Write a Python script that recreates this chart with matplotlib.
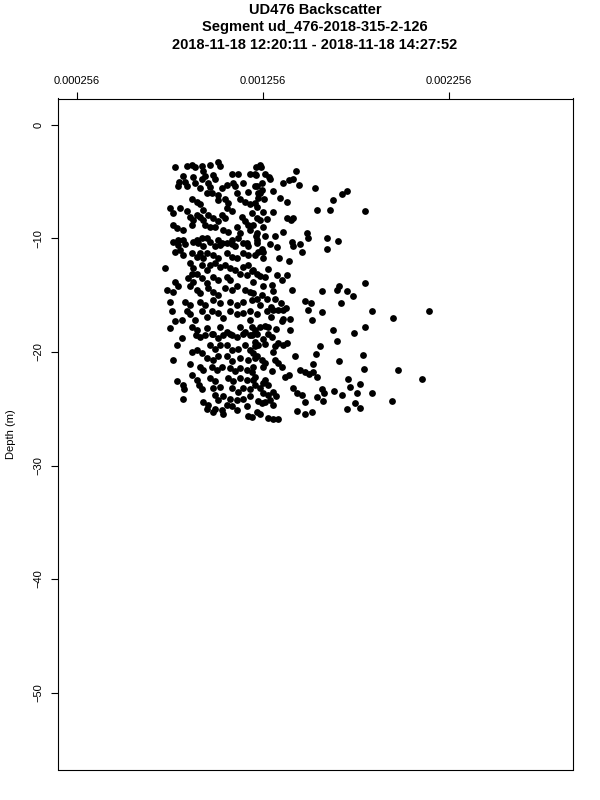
import numpy as np
import matplotlib
matplotlib.use("Agg")
import matplotlib.pyplot as plt

# ==============================
# Data (backscatter in units of 1e-6)
# ==============================
TITLE_LINES = [
    "UD476 Backscatter",
    "Segment ud_476-2018-315-2-126",
    "2018-11-18 12:20:11 - 2018-11-18 14:27:52",
]
X_TICKS = [0.000256, 0.001256, 0.002256]
X_TICK_LABELS = ["0.000256", "0.001256", "0.002256"]
Y_TICKS = [0, -10, -20, -30, -40, -50]

backscatter_e6 = [
    783, 846, 873, 890, 926, 971, 1016, 1025, 824, 806, 801, 837, 846, 881, 935, 944,
    926, 989, 998, 1088, 1123, 1186, 1213, 1240, 1093, 1105, 1150, 1177, 1222, 1231,
    962, 971, 953, 1034, 1061, 890, 917, 873, 899, 917, 935, 980, 1016, 1016, 1052,
    1069, 1061, 1088, 1115, 1132, 1159, 1186, 1213, 1222, 756, 774, 810, 846, 863,
    881, 899, 917, 935, 962, 989, 1016, 1034, 1052, 1141, 1159, 1177, 1204, 774, 792,
    827, 873, 944, 971, 998, 1042, 1069, 1118, 1132, 1186, 801, 827, 899, 926, 953,
    971, 1016, 1034, 1088, 1123, 1168, 1222,
    # upper right part
    1218, 1245, 1218, 1267, 1290, 1294, 1433, 1419, 1397, 1365, 1451, 1537, 1213,
    1249, 1249, 1240, 1229, 1308, 1261, 1347, 1383, 1631, 1681, 1709, 1545, 1616,
    1195, 1258, 1308, 1225, 1240, 1276, 1383, 1405, 1419, 1254, 1365, 1218, 1267,
    1320, 1222, 1494, 1499, 1410, 1455, 1598, 1657, 1294, 1804,
    # middle right part
    1249, 1258, 1333, 1416, 1464, 1598, 1258, 1344, 1397, 1284, 1195, 1240, 1267,
    1330, 1356, 1383, 1204, 1258, 1303, 1308, 1410, 1666, 1655, 1706, 1571, 1186,
    1201, 1195, 1249, 1276, 1320, 1351, 1482, 1512, 1674, 1240, 1297, 1311, 1338,
    1365, 1380, 1499, 1571, 1276, 1297, 1365, 1360, 1401, 1521, 1186, 1195, 1213,
    1213, 1240, 1267, 1284, 1326, 1401, 1631,
    1741, 1804, 1844, 1953, 2147, 1803, 1745,
    # lower right part
    1195, 1213, 1231, 1258, 1267, 1284, 1303, 1320, 1311, 1338, 1365, 1383, 1562,
    1652, 1428, 1541, 1666, 1204, 1222, 1249, 1267, 1258, 1303, 1320, 1338, 1356,
    1374, 1397, 1455, 1482, 1505, 1526, 1526, 1545, 1715, 1195, 1204, 1213, 1267,
    1254, 1284, 1240, 1258, 1419, 1437, 1464, 1482, 1571, 1584, 1638, 1679, 1545,
    1577, 1284, 1311, 1326, 1294, 1267, 1249, 1231, 1311, 1437, 1518, 1482, 1706,
    1240, 1284, 1308, 1338, 1195,
    1792, 1799, 1982, 2111, 1724, 1777, 1763, 1840, 1949, 1749, 1777,
    # middle left part
    774, 801, 837, 881, 908, 935, 998, 1025, 1061, 1088, 1105, 1150, 1177, 1222,
    783, 810, 827, 873, 899, 917, 935, 953, 989, 1016, 1061, 1088, 1115, 1150, 1177,
    1213, 1231, 729, 863, 881, 899, 873, 926, 953, 971, 998, 1025, 1052, 1079, 1105,
    1150, 1177, 1204, 854, 881, 863, 926, 953, 989, 1016, 1061, 1079, 1132, 1168,
    1222, 783, 738, 774, 801, 899, 917, 962, 989, 1016, 1052, 1088, 1115, 1159, 756,
    837, 863, 917, 944, 989, 1025, 1079, 1115, 1150, 1222, 846, 863, 890, 926, 953,
    980, 1016, 1042, 1079, 1115, 1150, 1186, 1222, 765, 819, 783, 756, 873, 899, 953,
    980, 1025, 1061, 1088, 1132, 1159,
    # lower left part
    819, 792, 896, 917, 944, 989, 1016, 1042, 1079, 1115, 1150, 1186, 1222, 774, 873,
    899, 926, 971, 998, 1025, 1061, 1088, 1123, 1159, 1186, 1213, 953, 989, 1016,
    1061, 1088, 1132, 1177, 1213, 863, 917, 935, 980, 1007, 1034, 1079, 1105, 1132,
    1168, 1204, 873, 792, 827, 831, 899, 913, 926, 971, 998, 1025, 989, 1069, 1096,
    1132, 1168, 1213, 1088, 1123, 1150, 1186, 827, 935, 962, 998, 1016, 1042, 1079,
    1115, 1150, 1186, 953, 989, 998, 1034, 1061, 1088, 1115, 1168, 1177, 1222, 1042,
]

depth = [
    -3.7, -3.6, -3.5, -3.7, -3.6, -3.5, -3.3, -3.6, -4.5, -5.0, -5.4, -5.0, -5.4, -4.6, -4.1, -4.5,
    -4.8, -4.4, -4.8, -4.3, -4.3, -4.3, -4.3, -3.5, -5.1, -5.4, -5.1, -5.9, -5.4, -6.0,
    -5.1, -5.5, -6.0, -5.6, -5.3, -5.1, -5.6, -6.5, -6.8, -7.0, -7.5, -6.0, -6.2, -6.6, -6.5,
    -6.9, -7.3, -7.6, -6.0, -6.5, -6.8, -7.0, -6.9, -7.2, -7.3, -7.8, -7.3, -7.6, -8.1,
    -8.4, -7.9, -8.1, -8.4, -7.9, -8.2, -8.5, -7.9, -8.2, -8.1, -8.5, -8.8, -8.8, -8.8, -9.1,
    -9.3, -8.8, -8.8, -9.0, -9.0, -9.3, -9.4, -9.0, -9.5, -9.3, -10.1, -10.1, -10.1, -10.0, -10.0,
    -10.3, -10.1, -10.4, -10.1, -10.0, -10.4, -9.5,
    # upper right part
    -3.7, -3.7, -4.4, -4.3, -4.6, -4.8, -4.1, -4.8, -4.9, -5.1, -5.3, -5.6, -5.4,
    -5.1, -5.7, -6.0, -6.4, -5.8, -6.5, -6.4, -6.8, -6.6, -6.1, -5.8, -7.5, -7.5,
    -7.8, -7.7, -7.7, -8.2, -8.4, -8.3, -8.2, -8.4, -8.2, -9.0, -9.4, -9.8, -9.8,
    -9.8, -10.1, -9.5, -10.0, -10.3, -10.5, -10.0, -10.2, -10.5, -7.6,
    # middle right part
    -10.9, -11.2, -10.8, -10.7, -11.2, -10.9, -11.7, -11.7, -12.0, -12.7, -12.9, -13.3, -13.4,
    -13.2, -13.7, -13.2, -13.8, -14.2, -14.1, -14.6, -14.5, -14.2, -14.5, -14.6, -14.6, -14.7,
    -14.8, -15.4, -15.0, -15.3, -15.3, -15.7, -15.5, -15.7, -15.7, -15.9, -16.0, -16.3, -16.3,
    -16.3, -16.1, -16.3, -16.5, -16.4, -16.9, -17.1, -17.3, -17.1, -17.2, -17.2, -17.8, -18.1,
    -18.3, -17.8, -17.7, -17.8, -18.0, -18.1, -18.1,
    -15.1, -13.9, -16.4, -17.0, -16.4, -17.8, -18.3,
    # lower right part
    -18.5, -19.1, -19.4, -18.9, -19.3, -18.4, -18.7, -19.5, -20.0, -19.2, -19.4, -19.2, -19.5,
    -19.0, -20.4, -20.2, -20.8, -20.1, -20.4, -20.7, -21.0, -21.3, -21.7, -20.7, -21.0, -21.3,
    -22.2, -22.0, -21.6, -21.8, -21.9, -21.8, -21.1, -22.2, -22.4, -21.8, -22.5, -22.9, -22.5,
    -22.7, -22.9, -23.2, -23.6, -23.2, -23.6, -23.8, -24.4, -23.3, -23.6, -23.4, -23.8, -24.0,
    -24.3, -23.8, -23.5, -23.9, -24.2, -24.4, -24.5, -24.3, -24.7, -25.2, -25.3, -25.5, -25.0,
    -25.5, -25.8, -25.9, -25.9, -25.7,
    -20.3, -21.5, -21.6, -22.4, -23.1, -22.8, -23.6, -23.6, -24.3, -24.5, -24.9,
    # middle left part
    -10.3, -10.6, -10.5, -10.3, -10.4, -10.7, -10.7, -10.6, -10.4, -10.5, -10.7, -10.4, -10.7, -10.4,
    -11.2, -11.0, -11.5, -11.3, -11.6, -11.3, -11.7, -11.3, -11.5, -11.7, -11.3, -11.6, -11.7, -11.3, -11.5,
    -11.5, -11.2, -12.6, -12.2, -12.6, -13.1, -13.1, -12.3, -12.8, -12.3, -12.2, -12.5, -12.3, -12.6, -12.8,
    -12.5, -12.3, -12.8, -13.5, -13.8, -14.2, -13.5, -13.9, -13.4, -13.7, -13.4, -13.7, -13.1, -13.2,
    -13.1, -13.8, -14.5, -14.7, -14.2, -14.5, -14.8, -14.4, -14.7, -15.0, -14.4, -14.5, -14.2, -14.5, -15.6,
    -15.6, -15.9, -15.6, -15.9, -15.4, -15.7, -15.6, -15.9, -15.6, -15.3, -16.4, -16.7, -17.2, -16.4, -16.9,
    -16.4, -16.6, -17.0, -16.4, -16.7, -16.6, -16.4, -16.7, -16.4, -17.2, -17.3, -17.9, -17.8, -18.1, -17.9,
    -18.4, -17.8, -18.2, -18.5, -17.8, -18.2,
    # lower left part
    -18.8, -19.4, -18.5, -18.7, -18.5, -18.4, -18.8, -18.5, -18.4, -18.7, -18.4, -18.5, -18.4, -20.7, -20.0,
    -19.8, -20.1, -19.4, -19.7, -19.4, -19.4, -19.8, -19.7, -19.4, -19.8, -19.5, -20.5, -20.7, -20.4,
    -20.4, -20.8, -20.5, -20.7, -20.5, -21.1, -21.3, -21.6, -21.3, -21.6, -21.3, -21.4, -21.7, -21.4,
    -21.6, -21.3, -22.0, -22.6, -22.9, -23.3, -22.5, -22.9, -23.3, -22.3, -22.6, -23.1, -23.2, -22.3, -22.6,
    -22.3, -22.5, -22.2, -23.2, -23.5, -23.2, -23.3, -24.1, -24.4, -24.7, -23.8, -24.2, -23.9, -24.1,
    -24.2, -24.1, -23.9, -25.0, -25.3, -25.0, -25.1, -24.7, -24.8, -25.1, -24.8, -25.6, -25.3, -25.5,
]

x = np.array(backscatter_e6) * 1e-6
y = np.array(depth)

# ==============================
# Plot
# ==============================
plt.rcParams["font.family"] = ["Liberation Sans", "DejaVu Sans"]

fig = plt.figure(figsize=(6, 8), dpi=100)
ax = fig.add_axes([57.5 / 600, 1 - 769.5 / 800, 515 / 600, 671 / 800])

ax.scatter(x, y, s=24, color="black", linewidths=0)

ax.set_xlim(0.0001512, 0.00292)
ax.set_ylim(-56.77, 2.32)

ax.xaxis.tick_top()
ax.set_xticks(X_TICKS)
ax.set_xticklabels(X_TICK_LABELS)
ax.set_yticks(Y_TICKS)
ax.set_yticklabels([str(v).replace("-", "\u2212") for v in Y_TICKS], rotation=90, va="center")
ax.tick_params(axis="both", direction="out", length=5, width=0.8, labelsize=8, pad=4)
ax.tick_params(axis="y", pad=5)

for sp in ax.spines.values():
    sp.set_linewidth(0.8)

ax.set_ylabel("Depth (m)", fontsize=8, labelpad=13)

tx = (57.5 + 572.5) / 2 / 600
for i, line in enumerate(TITLE_LINES):
    fig.text(tx, 1 - (10 + 17.5 * i) / 800, line, ha="center", va="center",
             fontsize=10.5, fontweight="bold")

fig.savefig("out.png", dpi=100)
